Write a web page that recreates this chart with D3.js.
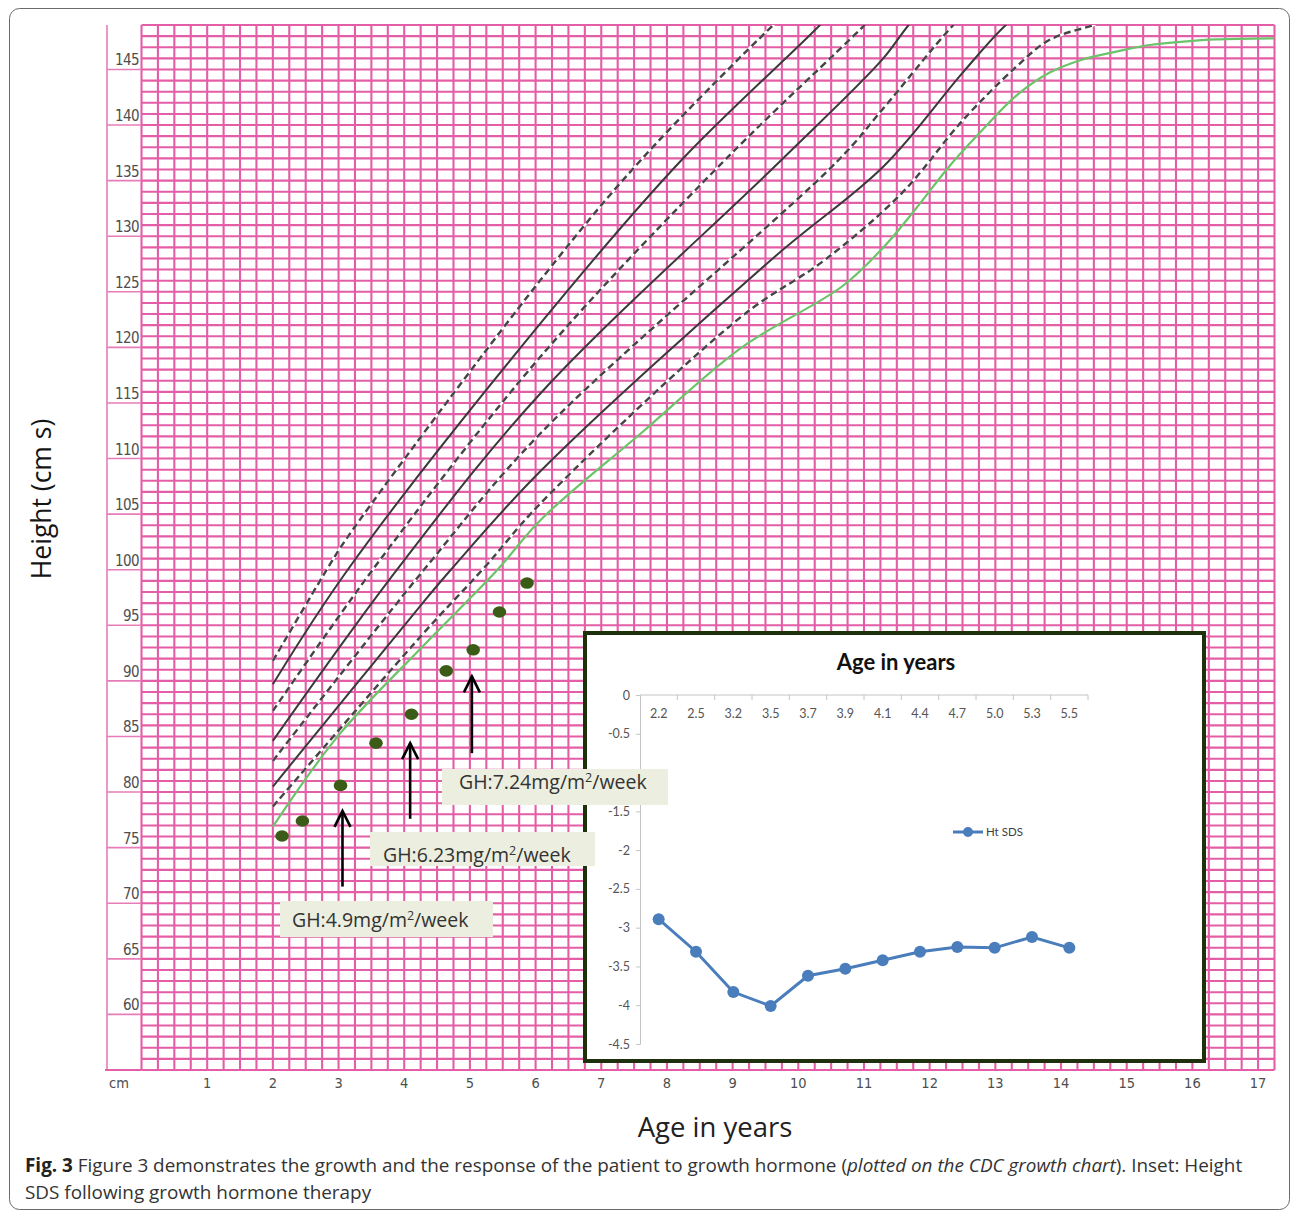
<!DOCTYPE html>
<html><head><meta charset="utf-8">
<script src="https://cdn.jsdelivr.net/npm/d3@7"></script>
<style>body{margin:0;background:#fff}svg{display:block}</style>
</head><body>
<svg id="c" width="1292" height="1213"></svg>
<script>
// ---------- data ----------
const heightTicks = [60,65,70,75,80,85,90,95,100,105,110,115,120,125,130,135,140,145];
const ageTicks = [1,2,3,4,5,6,7,8,9,10,11,12,13,14,15,16,17];
// reference curves [age, cm]
const p95 = [[2,91.8],[2.82,100],[3.11,102.7],[6.08,126.1],[7.61,136.9],[9.62,149],[10,151]];
const p90 = [[2,89.7],[3.14,100],[6.08,122.2],[8.23,136.9],[10.33,149],[10.8,152]];
const p75 = [[2,87.3],[3.52,100],[6.08,119.2],[8.89,136.9],[11.01,149],[11.5,152]];
const p50 = [[2,84.6],[3.89,100],[6.08,115.9],[9.75,136.9],[11.28,145.9],[11.68,149],[12,151]];
const p25 = [[2,82.8],[4.3,100],[6.08,112.3],[10.62,136.9],[11.28,141.4],[12.36,149],[12.8,151.5]];
const p10 = [[2,80.5],[4.28,97.0],[4.71,100],[6.08,108.9],[9.65,128.2],[11.3,136.3],[12.5,144.7],[13.16,149],[13.6,151]];
const p5  = [[2,78.7],[4.28,94.2],[5.22,100.2],[6.08,106.0],[9.14,122.8],[10.41,127.9],[11.58,133.9],[12.5,140.4],[13.31,145.2],[13.82,147.65],[14.5,149],[15,150]];
const greenCurve = [[2,76.9],[3,85.1],[4.28,93.1],[5.42,100.0],[6.08,104.5],[7.61,112.3],[9.14,120.0],[10.67,125.5],[11.28,128.9],[11.78,132.4],[12.3,136.3],[12.81,139.6],[13.31,142.6],[13.82,144.7],[14.33,145.9],[14.84,146.6],[15.35,147.2],[15.86,147.5],[16.36,147.7],[17.25,147.8]];
// patient
const patientAge = [2.14,2.45,3.03,3.57,4.11,4.64,5.05,5.45,5.87];
const patientHeight = [76.05,77.4,80.6,84.4,87.0,90.9,92.8,96.2,98.8];
// GH annotations
const ghLabels = ["4.9","6.23","7.24"];
const ghAge = [3.06,4.09,5.03];
const ghArrowTip = [78.4,84.5,90.5];
const ghArrowTail = [71.5,77.6,83.5];
// inset
const sdsAgeLabels = ["2.2","2.5","3.2","3.5","3.7","3.9","4.1","4.4","4.7","5.0","5.3","5.5"];
const htSDS = [-2.89,-3.31,-3.83,-4.01,-3.62,-3.53,-3.42,-3.31,-3.25,-3.26,-3.12,-3.26];
const sdsTicks = [0,-0.5,-1,-1.5,-2,-2.5,-3,-3.5,-4,-4.5];
const sdsHiddenTick = -1; // covered by the GH label box in the figure

// ---------- layout ----------
const svg = d3.select("#c");
const x = d3.scaleLinear().domain([0,17.25]).range([141.5,1274.5]);
const y = d3.scaleLinear().domain([55,149]).range([1070,25]);
const pink = "#e35ea6";

// frame
svg.append("rect").attr("x",9.5).attr("y",8.5).attr("width",1280).attr("height",1201)
  .attr("rx",10).attr("fill","none").attr("stroke","#6a6a6a").attr("stroke-width",1);

// grid
const grid = svg.append("g");
grid.selectAll("line.v").data(d3.range(0,17.25+1e-9,0.25)).join("line")
  .attr("x1",d=>x(d)).attr("x2",d=>x(d)).attr("y1",y(149)).attr("y2",y(55))
  .attr("stroke",pink).attr("stroke-width",2.1);
grid.selectAll("line.h").data(d3.range(55,149+1e-9,1)).join("line")
  .attr("x1",x(0)).attr("x2",x(17.25)).attr("y1",d=>y(d)).attr("y2",d=>y(d))
  .attr("stroke",pink).attr("stroke-width",2.1);

// label column
const lc = svg.append("g");
lc.append("line").attr("x1",107).attr("x2",107).attr("y1",y(149)).attr("y2",y(55))
  .attr("stroke","#e77db8").attr("stroke-width",1.6);
lc.append("line").attr("x1",105).attr("x2",x(0)).attr("y1",y(55)).attr("y2",y(55))
  .attr("stroke",pink).attr("stroke-width",2);
lc.selectAll("line.t").data(heightTicks).join("line")
  .attr("x1",107).attr("x2",x(0)).attr("y1",d=>y(d)).attr("y2",d=>y(d))
  .attr("stroke","#e77db8").attr("stroke-width",1.6);
lc.selectAll("text").data(heightTicks).join("text")
  .attr("x",139).attr("y",d=>y(d)-4).attr("text-anchor","end")
  .attr("font-family","'DejaVu Sans Condensed','Open Sans',sans-serif").attr("font-size",15)
  .attr("letter-spacing",-0.6).attr("fill","#4e4e4e").text(d=>d);

// x labels
const xl = svg.append("g").attr("font-family","'DejaVu Sans Condensed','Open Sans',sans-serif")
  .attr("font-size",14.5).attr("fill","#4e4e4e");
xl.append("text").attr("x",119).attr("y",1088).attr("text-anchor","middle").text("cm");
xl.selectAll("text.a").data(ageTicks).join("text").attr("class","a")
  .attr("x",d=>x(d)).attr("y",1088).attr("text-anchor","middle").text(d=>d);

// axis titles
svg.append("text").attr("transform","translate(51,499) rotate(-90)")
  .attr("text-anchor","middle").attr("font-family","'Open Sans',sans-serif")
  .attr("font-size",26.5).attr("font-weight",500).attr("fill","#151515").text("Height (cm s)");
svg.append("text").attr("x",715).attr("y",1137).attr("text-anchor","middle")
  .attr("font-family","'Open Sans',sans-serif").attr("font-size",27.5).attr("fill","#222").text("Age in years");

// curves
svg.append("clipPath").attr("id","gclip").append("rect")
  .attr("x",x(0)).attr("y",y(149)).attr("width",x(17.25)-x(0)).attr("height",y(55)-y(149));
const cg = svg.append("g").attr("clip-path","url(#gclip)");
const line = d3.line().x(d=>x(d[0])).y(d=>y(d[1])).curve(d3.curveCatmullRom.alpha(0.5));
const curves = [
  {d:p95,dash:true},{d:p90,dash:false},{d:p75,dash:true},{d:p50,dash:false},
  {d:p25,dash:true},{d:p10,dash:false},{d:p5,dash:true}
];
curves.forEach(c=>{
  if(c.dash){
    cg.append("path").attr("d",line(c.d)).attr("fill","none").attr("stroke","#fff").attr("stroke-width",2.4);
    cg.append("path").attr("d",line(c.d)).attr("fill","none").attr("stroke","#454545")
      .attr("stroke-width",2.4).attr("stroke-dasharray","7,4");
  } else {
    cg.append("path").attr("d",line(c.d)).attr("fill","none").attr("stroke","#3a3a3a").attr("stroke-width",2);
  }
});
cg.append("path").attr("d",line(greenCurve)).attr("fill","none").attr("stroke","#6cc46a").attr("stroke-width",2.2);

// patient dots
svg.append("g").selectAll("ellipse").data(patientAge).join("ellipse")
  .attr("cx",d=>x(d)).attr("cy",(d,i)=>y(patientHeight[i])).attr("rx",6.8).attr("ry",5.8)
  .attr("fill","#3b5c16");

// arrows
const ag = svg.append("g").attr("stroke","#000").attr("stroke-width",2.6).attr("fill","none");
ghAge.forEach((a,i)=>{
  const ax=x(a), t=y(ghArrowTip[i]), b=y(ghArrowTail[i]);
  ag.append("line").attr("x1",ax).attr("x2",ax).attr("y1",t+1).attr("y2",b);
  ag.append("polyline").attr("points",`${ax-8},${t+17} ${ax},${t+1} ${ax+8},${t+17}`);
});

// ---------- inset ----------
const ins = svg.append("g");
ins.append("rect").attr("x",585).attr("y",633).attr("width",619).attr("height",428)
  .attr("fill","#fff").attr("stroke","#1f300c").attr("stroke-width",4);
const ix = d3.scaleBand().domain(sdsAgeLabels).range([640,1088]);
const iy = d3.scaleLinear().domain([-4.5,0]).range([1044,695]);
ins.append("text").attr("x",896).attr("y",670).attr("text-anchor","middle")
  .attr("font-family","Lato,'Open Sans',sans-serif").attr("font-weight","bold")
  .attr("font-size",22).attr("fill","#111").text("Age in years");
const yAx = ins.append("g").attr("transform","translate(640,0)")
  .call(d3.axisLeft(iy).tickValues(sdsTicks).tickSize(4).tickPadding(6)
    .tickFormat(d=>d===sdsHiddenTick?"":String(d)));
yAx.select(".domain").attr("stroke","#c4c4c4");
yAx.selectAll(".tick line").attr("stroke","#c4c4c4");
yAx.selectAll("text").attr("font-family","Lato,'Open Sans',sans-serif").attr("font-size",12.5).attr("fill","#555");
// top category axis
ins.append("line").attr("x1",640).attr("x2",1088).attr("y1",iy(0)).attr("y2",iy(0)).attr("stroke","#c4c4c4");
ins.selectAll("line.ct").data(sdsAgeLabels).join("line").attr("class","ct")
  .attr("x1",d=>ix(d)+ix.bandwidth()).attr("x2",d=>ix(d)+ix.bandwidth())
  .attr("y1",iy(0)).attr("y2",iy(0)+5).attr("stroke","#c4c4c4");
ins.selectAll("text.cl").data(sdsAgeLabels).join("text").attr("class","cl")
  .attr("x",d=>ix(d)+ix.bandwidth()/2).attr("y",iy(0)+23).attr("text-anchor","middle")
  .attr("font-family","Lato,'Open Sans',sans-serif").attr("font-size",12.5).attr("fill","#555").text(d=>d);
const sdsLine = d3.line().x((d,i)=>ix(sdsAgeLabels[i])+ix.bandwidth()/2).y(d=>iy(d));
ins.append("path").attr("d",sdsLine(htSDS)).attr("fill","none").attr("stroke","#4a7dbb").attr("stroke-width",3);
ins.selectAll("circle.m").data(htSDS).join("circle").attr("class","m")
  .attr("cx",(d,i)=>ix(sdsAgeLabels[i])+ix.bandwidth()/2).attr("cy",d=>iy(d)).attr("r",6)
  .attr("fill","#4a7dbb");
// legend
ins.append("line").attr("x1",953).attr("x2",983).attr("y1",832).attr("y2",832).attr("stroke","#4a7dbb").attr("stroke-width",3);
ins.append("circle").attr("cx",968).attr("cy",832).attr("r",5).attr("fill","#4a7dbb");
ins.append("text").attr("x",986).attr("y",836).attr("font-family","Lato,'Open Sans',sans-serif")
  .attr("font-size",11.5).attr("fill","#404040").text("Ht SDS");

// ---------- GH label boxes ----------
const boxLayout = [
  {x:280,y:901,w:213,h:36,tx:12,ty:19},
  {x:370,y:832,w:225,h:34,tx:13,ty:23},
  {x:442,y:769,w:226,h:36,tx:17,ty:13}
];
ghLabels.forEach((g,i)=>{
  const b=boxLayout[i];
  svg.append("rect").attr("x",b.x).attr("y",b.y).attr("width",b.w).attr("height",b.h).attr("fill","#eceedf");
  const t = svg.append("text").attr("x",b.x+b.tx).attr("y",b.y+b.ty+7)
    .attr("font-family","'Open Sans',sans-serif").attr("font-size",19.5).attr("fill","#333");
  t.append("tspan").text(`GH:${g}mg/m`);
  t.append("tspan").attr("dy",-7).attr("font-size",12.5).text("2");
  t.append("tspan").attr("dy",7).text("/week");
});

// ---------- caption ----------
const cap = svg.append("text").attr("x",25).attr("y",1172).attr("font-family","'Open Sans',sans-serif")
  .attr("font-size",18.9).attr("fill","#333");
cap.append("tspan").attr("font-weight","bold").attr("fill","#222").text("Fig. 3");
cap.append("tspan").text(" Figure 3 demonstrates the growth and the response of the patient to growth hormone (");
cap.append("tspan").attr("font-style","italic").text("plotted on the CDC growth chart");
cap.append("tspan").text("). Inset: Height");
svg.append("text").attr("x",25).attr("y",1199).attr("font-family","'Open Sans',sans-serif")
  .attr("font-size",18.9).attr("fill","#333").text("SDS following growth hormone therapy");
</script>
</body></html>
